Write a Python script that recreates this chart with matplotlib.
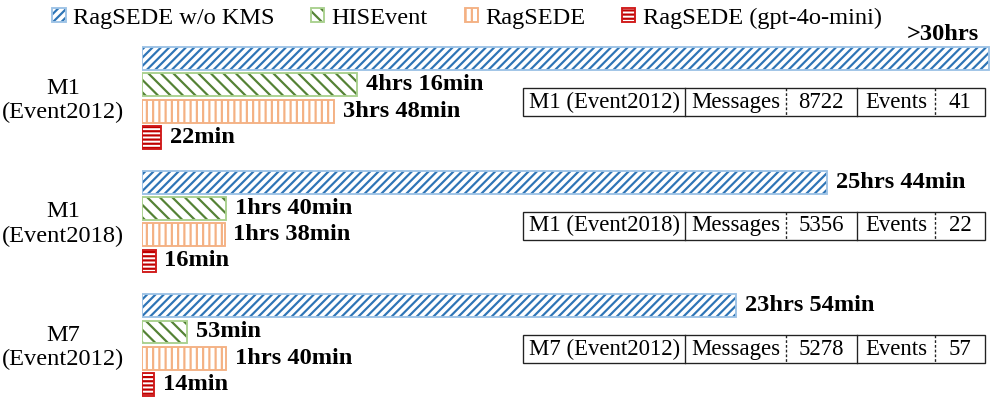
import matplotlib.pyplot as plt
import matplotlib.transforms as mtransforms
from matplotlib.patches import Patch, Rectangle

plt.rcParams['font.family'] = ['Liberation Serif', 'DejaVu Serif']
plt.rcParams['hatch.linewidth'] = 1.05

# data
groups = ['M1\n(Event2012)', 'M1\n(Event2018)', 'M7\n(Event2012)']
series = ['RagSEDE w/o KMS', 'HISEvent', 'RagSEDE', 'RagSEDE (gpt-4o-mini)']
# bar lengths in minutes; the w/o KMS bars are drawn on a squeezed scale in the original
wo_kms = [1008, 815, 707]
hisevent = [256, 100, 53]
ragsede = [228, 98, 100]
gpt4o_mini = [22, 16, 14]
time_labels = [
    ['>30hrs', '4hrs 16min', '3hrs 48min', '22min'],
    ['25hrs 44min', '1hrs 40min', '1hrs 38min', '16min'],
    ['23hrs 54min', '53min', '1hrs 40min', '14min'],
]
table_names = ['M1 (Event2012)', 'M1 (Event2018)', 'M7 (Event2012)']
messages = [8722, 5356, 5278]
events = [41, 22, 57]

hatch_colors = ['#2e75b6', '#548235', '#f4b183', '#c00000']
edge_colors = ['#9dc3e6', '#a9d18e', '#f4b183', '#d01818']
hatches = ['//////', '\\\\\\\\', '||||', '------']

DPI = 150
fs = 11.7
fig = plt.figure(figsize=(996 / DPI, 399 / DPI), dpi=DPI)
ax = fig.add_axes([142.3 / 996, 0, 1 - 142.3 / 996, 1])
ax.set_xlim(0, 853.7 / 0.84)
ax.set_ylim(12.95, -2.224)
ax.axis('off')

gap = 4.7
h = 0.87
values = [wo_kms, hisevent, ragsede, gpt4o_mini]
for i, vals in enumerate(values):
    ys = [g * gap + i for g in range(len(groups))]
    ax.barh(ys, vals, height=h, color='white', edgecolor=hatch_colors[i],
            hatch=hatches[i], linewidth=0)
    ax.barh(ys, vals, height=h, fill=False, edgecolor=edge_colors[i], linewidth=0.9)
    for g, (y, v) in enumerate(zip(ys, vals)):
        lab = time_labels[g][i]
        if lab.startswith('>'):
            ax.annotate(lab, (v, y - h / 2), xytext=(-5, 3.5), textcoords='offset points',
                        ha='right', va='baseline', fontsize=fs, fontweight='bold')
        else:
            ax.annotate(lab, (v, y), xytext=(4.2, 0), textcoords='offset points',
                        ha='left', va='center', fontsize=fs, fontweight='bold')

# group names on the left
for g, name in enumerate(groups):
    ax.text(-94, g * gap + 1.6, name, ha='center', va='center', fontsize=fs,
            linespacing=1.2, clip_on=False)

# small info tables
trans = mtransforms.blended_transform_factory(fig.transFigure, ax.transData)
cols = [523.3, 685, 786, 856.7, 935, 985]
cols = [c / 996 for c in cols]
th = 1.07
for g in range(len(groups)):
    yc = g * gap + 1.66
    ax.add_patch(Rectangle((cols[0], yc - th / 2), cols[-1] - cols[0], th, transform=trans,
                           fill=False, edgecolor='#222222', linewidth=0.65, clip_on=False))
    for k, c in enumerate(cols[1:-1]):
        ls = (0, (2, 1.5)) if k in (1, 3) else '-'
        ax.plot([c, c], [yc - th / 2, yc + th / 2], transform=trans, color='#222222',
                linewidth=0.65, linestyle=ls, clip_on=False)
    cells = [table_names[g], 'Messages', str(messages[g]), 'Events', str(events[g])]
    for k, txt in enumerate(cells):
        ax.text((cols[k] + cols[k + 1]) / 2, yc, txt, transform=trans, ha='center',
                va='center', fontsize=10.9)

handles = [(Patch(facecolor='white', edgecolor=hatch_colors[i], hatch=hatches[i], linewidth=0),
            Patch(fill=False, edgecolor=edge_colors[i], linewidth=0.9)) for i in range(4)]
fig.legend(handles, series, loc='center', bbox_to_anchor=(467 / 996, 1 - 18 / 399), ncol=4,
           frameon=False, fontsize=fs, handlelength=0.55, handleheight=0.55,
           handletextpad=0.3, columnspacing=1.5, borderpad=0, borderaxespad=0)

fig.savefig('out.png', dpi=DPI)
